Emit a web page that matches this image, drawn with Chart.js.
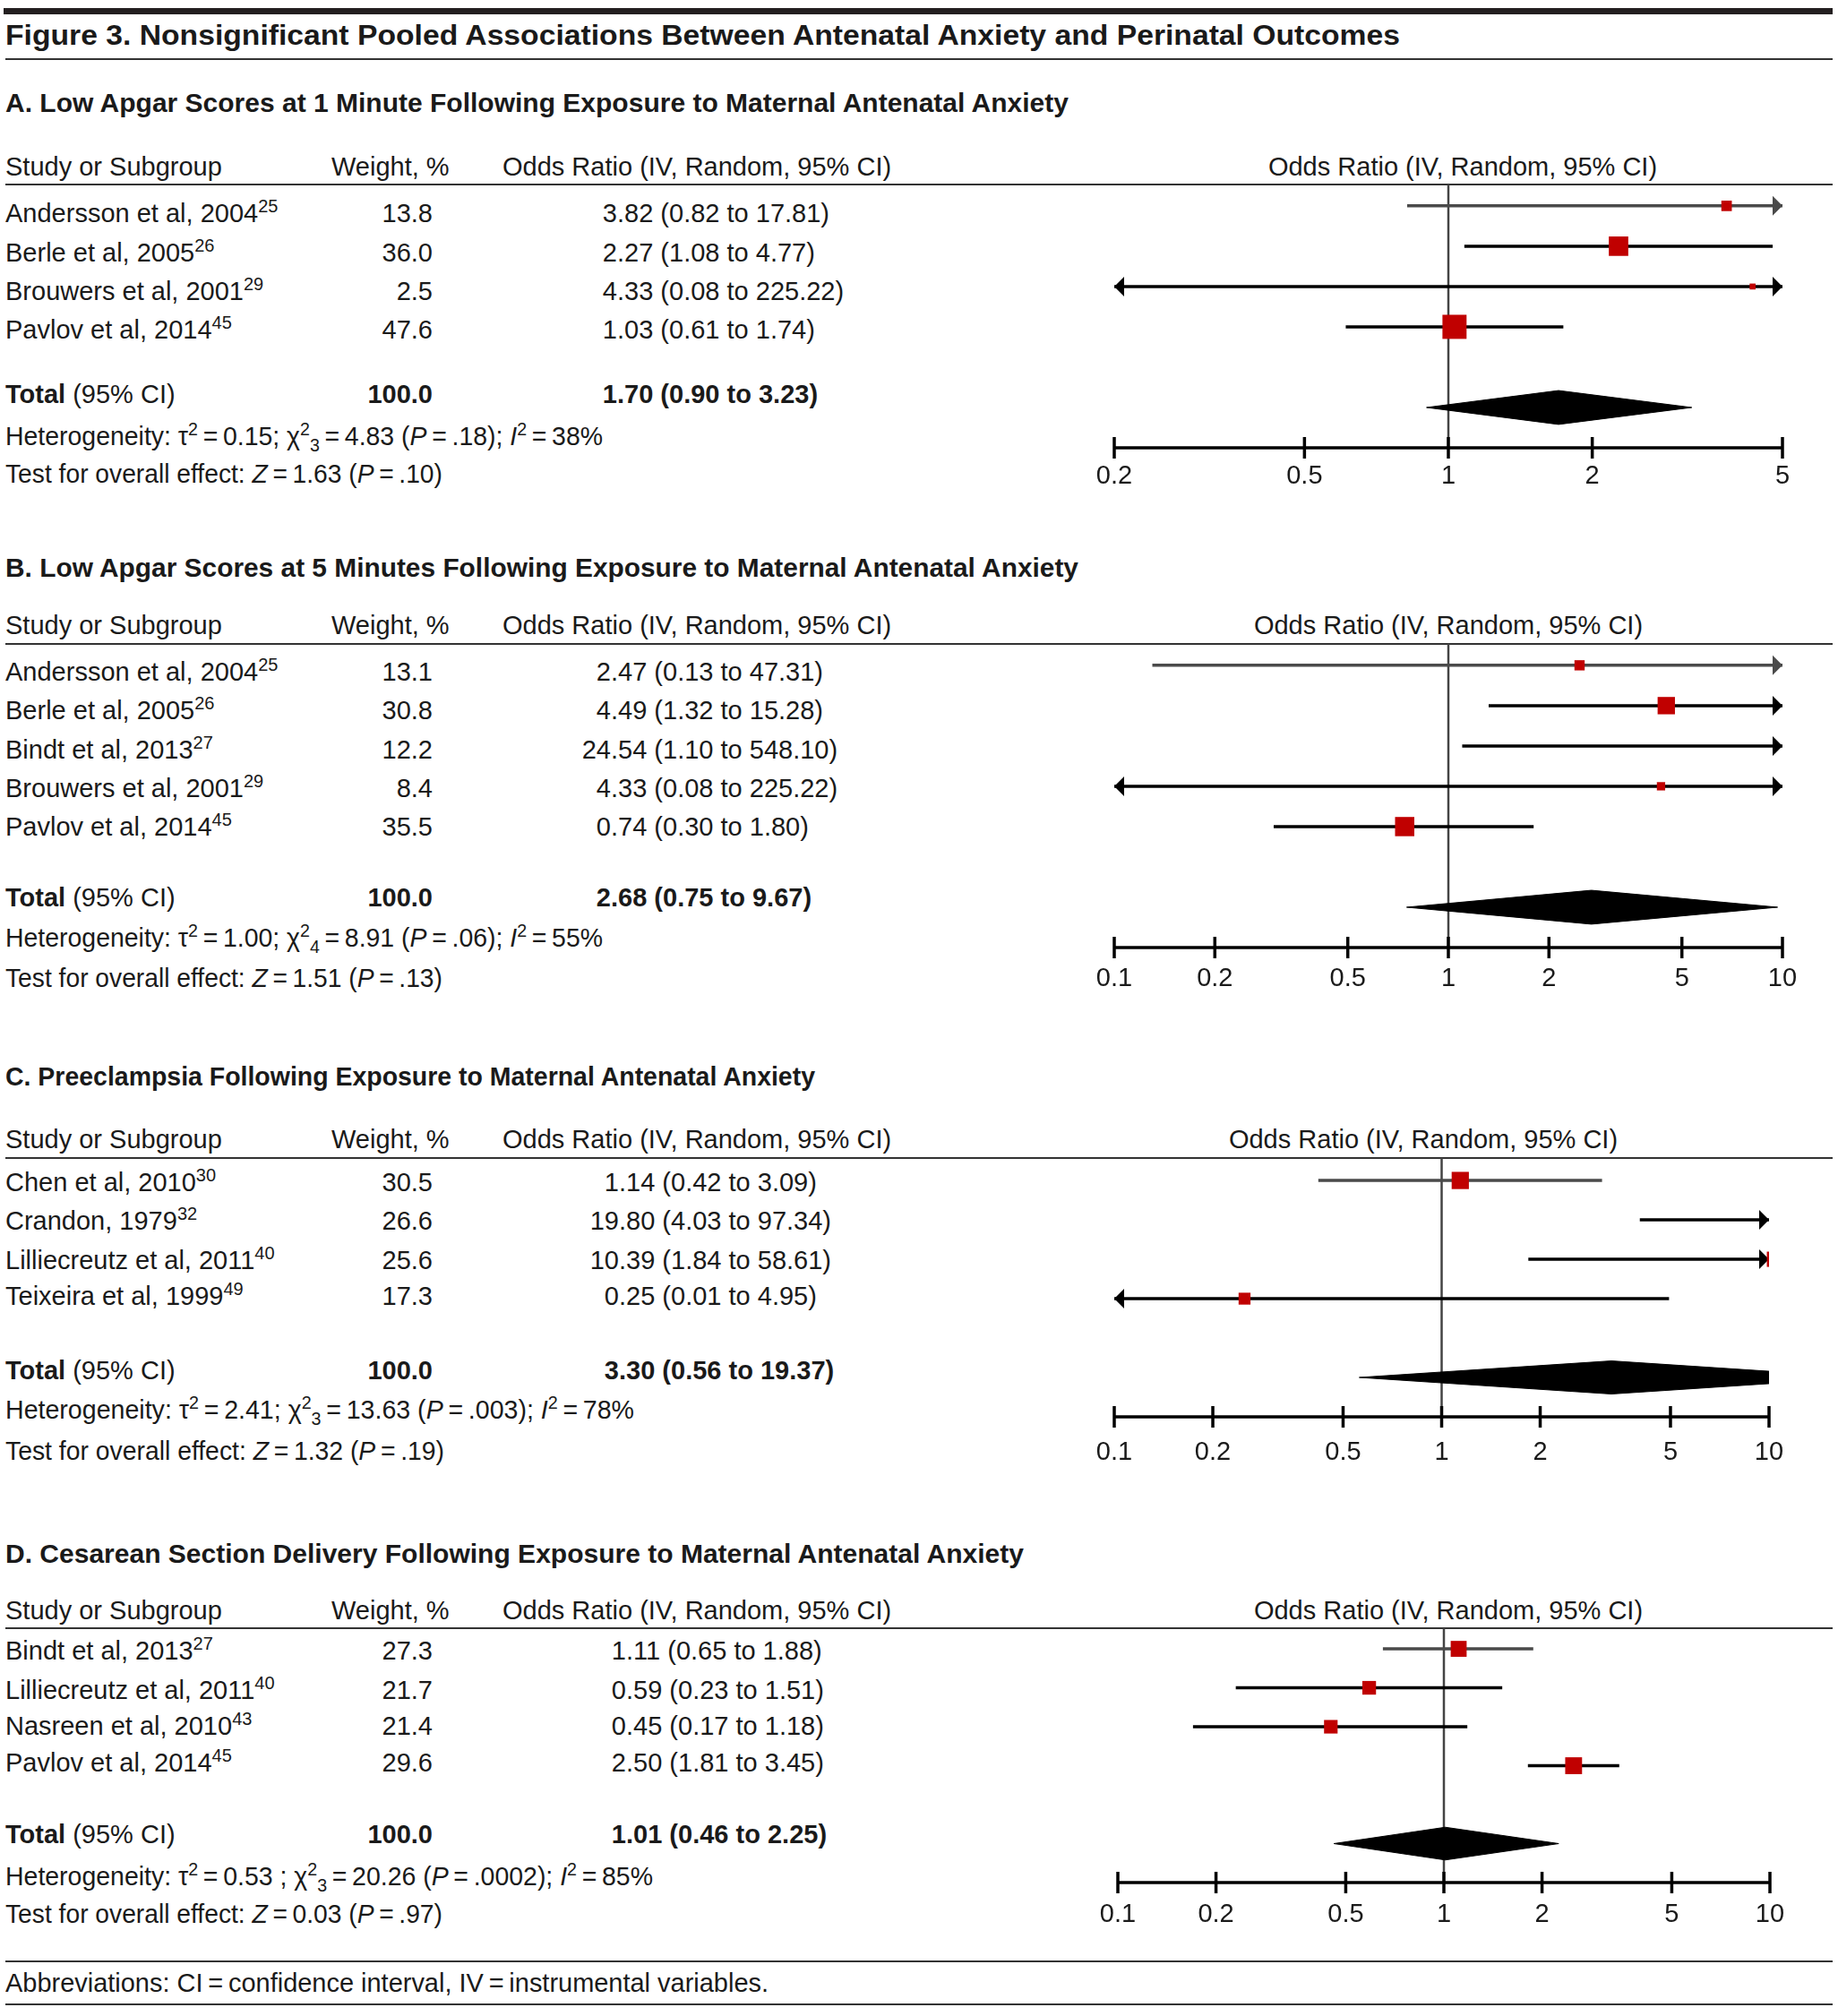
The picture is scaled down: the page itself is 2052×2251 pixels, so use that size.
<!DOCTYPE html>
<html>
<head>
<meta charset="utf-8">
<script src="https://cdn.jsdelivr.net/npm/chart.js@4.4.1/dist/chart.umd.min.js"></script>
<style>
html, body { margin: 0; padding: 0; background: #fff; }
#page { position: relative; width: 2052px; height: 2251px; overflow: hidden;
  font-family: "Liberation Sans", Arial, sans-serif; color: #1a1a1a; }
.t { position: absolute; height: 40px; line-height: 40px; font-size: 29px; white-space: nowrap; }
.b { font-weight: bold; }
.big { font-size: 31px; }
.rule { position: absolute; left: 6px; width: 2040px; background: #333; }
sup { font-size: 20px; position: relative; top: -11px; vertical-align: baseline; line-height: 0; }
sub { font-size: 20px; position: relative; top: 7px; vertical-align: baseline; line-height: 0; }
canvas { position: absolute; }
</style>
</head>
<body>
<div id="page"></div>
<script>
// A. Low Apgar at 1 minute
const studiesA = ['Andersson et al, 2004', 'Berle et al, 2005', 'Brouwers et al, 2001', 'Pavlov et al, 2014'];
const refsA = [25, 26, 29, 45];
const weightA = [13.8, 36.0, 2.5, 47.6];
const orA = [3.82, 2.27, 4.33, 1.03];
const lowA = [0.82, 1.08, 0.08, 0.61];
const highA = [17.81, 4.77, 225.22, 1.74];
const totalA = [1.70, 0.90, 3.23];
const hetA = ['0.15', '3', '4.83', '.18', '38'];
const zA = ['1.63', '.10'];
const ticksA = [0.2, 0.5, 1, 2, 5];

// B. Low Apgar at 5 minutes
const studiesB = ['Andersson et al, 2004', 'Berle et al, 2005', 'Bindt et al, 2013', 'Brouwers et al, 2001', 'Pavlov et al, 2014'];
const refsB = [25, 26, 27, 29, 45];
const weightB = [13.1, 30.8, 12.2, 8.4, 35.5];
const orB = [2.47, 4.49, 24.54, 4.33, 0.74];
const lowB = [0.13, 1.32, 1.10, 0.08, 0.30];
const highB = [47.31, 15.28, 548.10, 225.22, 1.80];
const totalB = [2.68, 0.75, 9.67];
const hetB = ['1.00', '4', '8.91', '.06', '55'];
const zB = ['1.51', '.13'];
const ticksB = [0.1, 0.2, 0.5, 1, 2, 5, 10];

// C. Preeclampsia
const studiesC = ['Chen et al, 2010', 'Crandon, 1979', 'Lilliecreutz et al, 2011', 'Teixeira et al, 1999'];
const refsC = [30, 32, 40, 49];
const weightC = [30.5, 26.6, 25.6, 17.3];
const orC = [1.14, 19.80, 10.39, 0.25];
const lowC = [0.42, 4.03, 1.84, 0.01];
const highC = [3.09, 97.34, 58.61, 4.95];
const totalC = [3.30, 0.56, 19.37];
const hetC = ['2.41', '3', '13.63', '.003', '78'];
const zC = ['1.32', '.19'];
const ticksC = [0.1, 0.2, 0.5, 1, 2, 5, 10];

// D. Cesarean section
const studiesD = ['Bindt et al, 2013', 'Lilliecreutz et al, 2011', 'Nasreen et al, 2010', 'Pavlov et al, 2014'];
const refsD = [27, 40, 43, 45];
const weightD = [27.3, 21.7, 21.4, 29.6];
const orD = [1.11, 0.59, 0.45, 2.50];
const lowD = [0.65, 0.23, 0.17, 1.81];
const highD = [1.88, 1.51, 1.18, 3.45];
const totalD = [1.01, 0.46, 2.25];
const hetD = ['0.53 ', '3', '20.26', '.0002', '85'];
const zD = ['0.03', '.97'];
const ticksD = [0.1, 0.2, 0.5, 1, 2, 5, 10];

const CANVAS_X = 1150, CANVAS_W = 902;
const FONT = '"Liberation Sans", Arial, sans-serif';
const page = document.getElementById('page');

function addText(x, y, html, cls) {
  const d = document.createElement('div');
  d.className = 't ' + (cls || '');
  d.style.left = x + 'px';
  d.style.top = (y - 20) + 'px';
  d.innerHTML = html;
  page.appendChild(d);
  return d;
}
function addRight(xr, y, html, cls) {
  const d = addText(xr - 400, y, html, cls);
  d.style.width = '400px';
  d.style.textAlign = 'right';
  return d;
}
function fitWidth(d, w) {
  const cur = d.getBoundingClientRect().width;
  d.style.transformOrigin = '0 50%';
  d.style.transform = 'scaleX(' + (w / cur).toFixed(4) + ')';
}
function rule(y, h, color) {
  const r = document.createElement('div');
  r.className = 'rule';
  r.style.top = (y - h / 2) + 'px';
  r.style.height = h + 'px';
  if (color) r.style.background = color;
  page.appendChild(r);
  return r;
}
// odds ratio text, lined up on the decimal point of the estimate
function addOR(xd, y, est, lo, hi, cls) {
  const s = est.toFixed(2);
  const k = s.indexOf('.');
  addRight(xd, y, s.slice(0, k), cls);
  addText(xd, y, s.slice(k) + ' (' + lo.toFixed(2) + ' to ' + hi.toFixed(2) + ')', cls);
}

// arrowheads for intervals running past the axis
const ciArrows = {
  id: 'ciArrows',
  beforeDatasetsDraw(chart, args, opts) {
    const ctx = chart.ctx, x = chart.scales.x, y = chart.scales.y;
    ctx.save();
    opts.low.forEach((lo, i) => {
      const yy = y.getPixelForValue(i);
      ctx.fillStyle = opts.colors[i];
      if (lo < x.min) {
        const tip = x.getPixelForValue(x.min);
        ctx.beginPath();
        ctx.moveTo(tip, yy); ctx.lineTo(tip + 11, yy - 11); ctx.lineTo(tip + 11, yy + 11);
        ctx.closePath(); ctx.fill();
      }
      if (opts.high[i] > x.max) {
        const tip = x.getPixelForValue(x.max);
        ctx.beginPath();
        ctx.moveTo(tip, yy); ctx.lineTo(tip - 11, yy - 11); ctx.lineTo(tip - 11, yy + 11);
        ctx.closePath(); ctx.fill();
      }
    });
    ctx.restore();
  }
};

function drawPanel(P) {
  const L = P.layout;
  const n = P.studies.length;

  fitWidth(addText(6, L.titleY, P.title, 'b'), L.titleW);
  addText(6, L.headY, 'Study or Subgroup');
  addText(370, L.headY, 'Weight, %');
  addText(561, L.headY, 'Odds Ratio (IV, Random, 95% CI)');
  const hd = addText(L.hdrX - 300, L.headY, 'Odds Ratio (IV, Random, 95% CI)');
  hd.style.width = '600px';
  hd.style.textAlign = 'center';
  rule(L.lineY, 2.5);

  P.studies.forEach((s, i) => {
    addText(6, L.rowsY[i], s + '<sup>' + P.refs[i] + '</sup>');
    addRight(483, L.rowsY[i], P.weight[i].toFixed(1));
    addOR(L.decX, L.rowsY[i], P.or[i], P.low[i], P.high[i], '');
  });
  addText(6, L.totalY, '<b>Total</b> (95% CI)');
  addRight(483, L.totalY, '100.0', 'b');
  addOR(L.decX, L.totalY, P.total[0], P.total[1], P.total[2], 'b');

  const h = P.het;
  fitWidth(addText(6, L.hetY, 'Heterogeneity: \u03c4<sup>2</sup>\u2009=\u2009' + h[0] + '; \u03c7<sup>2</sup><sub>' + h[1] +
    '</sub>\u2009=\u2009' + h[2] + ' (<i>P</i>\u2009=\u2009' + h[3] + '); <i>I</i><sup>2</sup>\u2009=\u2009' + h[4] + '%'), L.hetW);
  fitWidth(addText(6, L.testY, 'Test for overall effect: <i>Z</i>\u2009=\u2009' + P.z[0] + ' (<i>P</i>\u2009=\u2009' + P.z[1] + ')'), L.testW);

  // forest plot
  const ticks = P.ticks;
  const xmin = ticks[0], xmax = ticks[ticks.length - 1];
  const yTot = n + 1, yAxis = n + 2;
  const lineCols = P.studies.map((s, i) => i === 0 ? '#4a4a4a' : '#000');
  const datasets = [];

  datasets.push({
    data: P.or.map((v, i) => ({x: v, y: i})),
    showLine: false, pointStyle: 'rect',
    pointRadius: P.weight.map(w => (5.5 + 0.45 * w) / Math.SQRT2),
    pointBackgroundColor: '#c00000', pointBorderWidth: 0,
    clip: 0, order: 0
  });
  const t = P.total, dh = 0.42;
  datasets.push({
    data: [{x: t[1], y: yTot}, {x: t[0], y: yTot - dh}, {x: t[2], y: yTot}, {x: t[0], y: yTot + dh}, {x: t[1], y: yTot}],
    fill: 'shape', backgroundColor: '#000', borderColor: '#000', borderWidth: 1,
    pointRadius: 0, tension: 0, clip: 0, order: 1
  });
  P.studies.forEach((s, i) => {
    datasets.push({
      data: [{x: Math.max(P.low[i], xmin), y: i}, {x: Math.min(P.high[i], xmax), y: i}],
      borderColor: lineCols[i], borderWidth: 3.5, pointRadius: 0, fill: false, clip: false, order: 2
    });
  });
  datasets.push({
    data: [{x: xmin, y: yAxis}, {x: xmax, y: yAxis}],
    borderColor: '#000', borderWidth: 3.5, pointRadius: 0, fill: false, clip: false, order: 3
  });
  datasets.push({
    data: ticks.map(v => ({x: v, y: yAxis})),
    showLine: false, pointStyle: 'line', pointRotation: 90, pointRadius: 12,
    pointBorderColor: '#000', pointBorderWidth: 3.5, clip: false, order: 3
  });
  datasets.push({
    data: [{x: 1, y: -L.off}, {x: 1, y: yAxis}],
    borderColor: '#444', borderWidth: 2.5, pointRadius: 0, fill: false, clip: false, order: 4
  });

  const cv = document.createElement('canvas');
  const H = L.axisY - L.lineY + 70;
  cv.width = CANVAS_W; cv.height = H;
  cv.style.left = CANVAS_X + 'px'; cv.style.top = L.lineY + 'px';
  cv.style.width = CANVAS_W + 'px'; cv.style.height = H + 'px';
  page.appendChild(cv);

  new Chart(cv, {
    type: 'line',
    data: {datasets: datasets},
    options: {
      responsive: false, animation: false, events: [],
      layout: {autoPadding: false,
        padding: {left: L.plotL - CANVAS_X, right: CANVAS_X + CANVAS_W - L.plotR, top: 0, bottom: 0}},
      plugins: {
        legend: {display: false}, tooltip: {enabled: false},
        ciArrows: {low: P.low, high: P.high, colors: lineCols}
      },
      scales: {
        x: {
          type: 'logarithmic', min: xmin, max: xmax,
          grid: {display: false, drawTicks: false}, border: {display: false},
          afterBuildTicks: s => { s.ticks = ticks.map(v => ({value: v})); },
          afterFit: s => { s.height = 70; },
          ticks: {padding: L.labPad, color: '#1a1a1a', font: {family: FONT, size: 29},
            autoSkip: false, maxRotation: 0, callback: v => String(v)}
        },
        y: {type: 'linear', reverse: true, min: -L.off, max: yAxis, display: false}
      }
    },
    plugins: [ciArrows]
  });
}

function main() {
  // frame
  const bar = rule(12.5, 7, '#231f20');
  bar.style.left = '4px'; bar.style.width = '2042px';
  fitWidth(addText(6, 40, 'Figure 3. Nonsignificant Pooled Associations Between Antenatal Anxiety and Perinatal Outcomes', 'b big'), 1557);
  rule(66, 2.5);

  drawPanel({
    title: 'A. Low Apgar Scores at 1 Minute Following Exposure to Maternal Antenatal Anxiety',
    studies: studiesA, refs: refsA, weight: weightA, or: orA, low: lowA, high: highA,
    total: totalA, het: hetA, z: zA, ticks: ticksA,
    layout: {titleY: 115, titleW: 1187, headY: 186, lineY: 206, rowsY: [238, 282, 325, 368], totalY: 440,
      hetY: 487, hetW: 667, testY: 529, testW: 488, decX: 689, hdrX: 1633,
      plotL: 1244, plotR: 1990, axisY: 500, off: 0.53, labPad: 15}
  });
  drawPanel({
    title: 'B. Low Apgar Scores at 5 Minutes Following Exposure to Maternal Antenatal Anxiety',
    studies: studiesB, refs: refsB, weight: weightB, or: orB, low: lowB, high: highB,
    total: totalB, het: hetB, z: zB, ticks: ticksB,
    layout: {titleY: 634, titleW: 1198, headY: 698, lineY: 719, rowsY: [750, 793, 837, 880, 923], totalY: 1002,
      hetY: 1047, hetW: 667, testY: 1092, testW: 488, decX: 682, hdrX: 1617,
      plotL: 1244, plotR: 1990, axisY: 1058, off: 0.53, labPad: 18}
  });
  drawPanel({
    title: 'C. Preeclampsia Following Exposure to Maternal Antenatal Anxiety',
    studies: studiesC, refs: refsC, weight: weightC, or: orC, low: lowC, high: highC,
    total: totalC, het: hetC, z: zC, ticks: ticksC,
    layout: {titleY: 1202, titleW: 904, headY: 1272, lineY: 1293, rowsY: [1320, 1363, 1407, 1447], totalY: 1530,
      hetY: 1574, hetW: 702, testY: 1620, testW: 490, decX: 691, hdrX: 1589,
      plotL: 1244, plotR: 1975, axisY: 1582, off: 0.57, labPad: 23}
  });
  drawPanel({
    title: 'D. Cesarean Section Delivery Following Exposure to Maternal Antenatal Anxiety',
    studies: studiesD, refs: refsD, weight: weightD, or: orD, low: lowD, high: highD,
    total: totalD, het: hetD, z: zD, ticks: ticksD,
    layout: {titleY: 1735, titleW: 1137, headY: 1798, lineY: 1818, rowsY: [1843, 1887, 1927, 1968], totalY: 2048,
      hetY: 2095, hetW: 723, testY: 2137, testW: 488, decX: 699, hdrX: 1617,
      plotL: 1248, plotR: 1976, axisY: 2102, off: 0.53, labPad: 19}
  });

  rule(2190, 2.5);
  fitWidth(addText(6, 2214, 'Abbreviations: CI\u2009=\u2009confidence interval, IV\u2009=\u2009instrumental variables.'), 852);
  rule(2238, 2.5);
}

document.addEventListener('DOMContentLoaded', function() {
  main();
});
</script>
</body>
</html>
